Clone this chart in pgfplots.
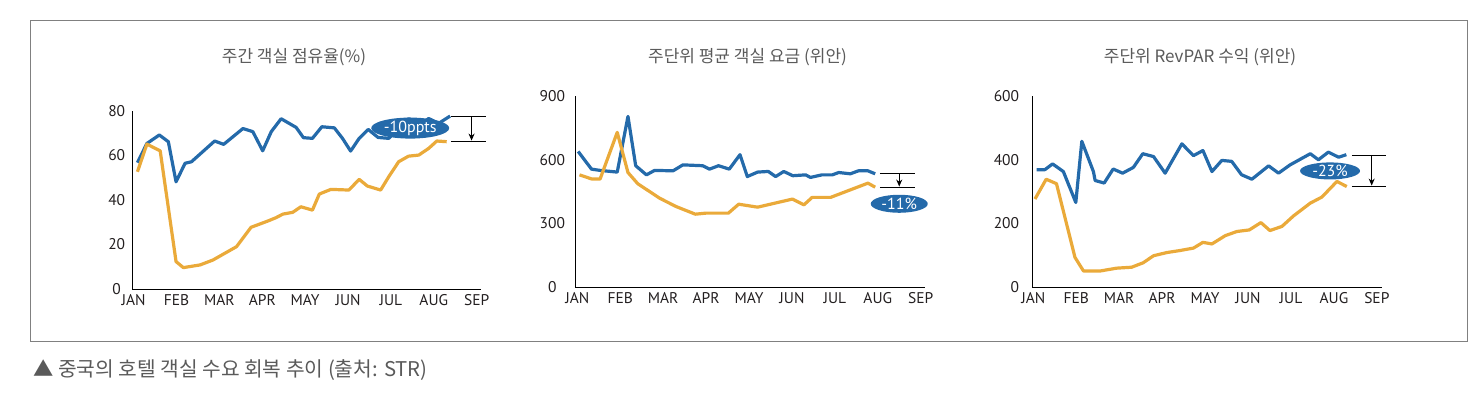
\documentclass[border=0pt]{standalone}
\usepackage{pgfplots}
\pgfplotsset{compat=1.18}
\usepackage{fontspec}
\setmainfont{PT Sans}
\newfontfamily\kr{Noto Sans CJK KR}
\usetikzlibrary{shapes.geometric,arrows.meta}
\definecolor{cblue}{RGB}{36,106,170}
\definecolor{corange}{RGB}{234,170,58}
\definecolor{tgray}{RGB}{90,90,90}
\definecolor{fgray}{RGB}{128,128,128}
\definecolor{tickc}{RGB}{35,31,32}

\pgfplotsset{
  panel/.style={
    scale only axis, anchor=south west,
    axis lines=left, axis line style={black, line width=0.9pt, -},
    major tick length=0pt,
    xmin=-0.03, xmax=8.1,
    xtick={0,1,2,3,4,5,6,7,8},
    xticklabels={JAN,FEB,MAR,APR,MAY,JUN,JUL,AUG,SEP},
    tick label style={font=\fontsize{15.5}{17}\selectfont, text=tickc},
    xticklabel style={anchor=north, inner sep=0pt, yshift=-5pt},
    /pgf/number format/assume math mode=true,
    clip=false,
    every axis plot/.append style={line width=3.2pt, line join=round, no markers},
  },
}
\tikzset{
  ann/.style={black, line width=0.9pt},
  annarrow/.style={black, line width=1pt, -{Stealth[length=7pt,width=6pt]}},
  bubble/.style={ellipse, fill=cblue, text=white, inner sep=0pt,
    font=\fontsize{16}{18}\selectfont},
}

\begin{document}
\begin{tikzpicture}
\useasboundingbox (0pt,0pt) rectangle (1478pt,-394pt);
\draw[fgray, line width=1.3pt] (30.3pt,-20.3pt) rectangle (1467.3pt,-341.3pt);

% Panel 1: occupancy
\begin{axis}[panel, at={(132.3pt,-289pt)}, width=348.7pt, height=178.3pt,
  ymin=0, ymax=80, ytick={0,20,40,60,80},
  yticklabel style={anchor=center, inner sep=0pt, xshift=-15.6pt}]
\addplot[cblue] coordinates {
(0.09,56.7)(0.31,65.3)(0.60,69.1)(0.81,66.1)(0.99,48.1)(1.20,56.4)(1.35,57.1)
(1.89,66.4)(2.10,64.9)(2.55,72.0)(2.78,70.6)(3.01,62.0)(3.21,70.6)(3.44,76.4)
(3.79,72.5)(3.96,67.9)(4.17,67.6)(4.39,72.8)(4.68,72.3)(4.87,67.6)(5.06,61.9)
(5.26,67.6)(5.47,71.6)(5.70,68.0)(5.95,67.6)(6.18,72.0)(6.42,76.5)(6.65,73.0)
(6.88,76.5)(7.11,74.3)(7.38,77.6)};
\addplot[corange] coordinates {
(0.09,52.6)(0.31,65.0)(0.62,62.0)(0.99,12.3)(1.16,9.6)(1.55,10.8)(1.85,13.0)
(2.40,19.0)(2.74,27.7)(3.13,30.5)(3.32,32.0)(3.48,33.6)(3.71,34.4)(3.90,36.9)
(4.17,35.4)(4.33,42.6)(4.60,44.7)(5.02,44.4)(5.26,49.2)(5.45,46.2)(5.76,44.4)
(5.95,50.4)(6.18,57.1)(6.41,59.6)(6.65,60.1)(6.88,63.1)(7.07,66.4)(7.30,66.1)};
\draw[ann] (axis cs:7.40,77.6) -- (axis cs:8.21,77.6);
\draw[ann] (axis cs:7.40,66.1) -- (axis cs:8.21,66.1);
\draw[annarrow] (axis cs:7.88,77.6) -- (axis cs:7.88,66.6);
\node[bubble, minimum width=78pt, minimum height=21pt] at (axis cs:6.45,72.2) {-10ppts};
\end{axis}

% Panel 2: ADR
\begin{axis}[panel, at={(575pt,-287.3pt)}, width=350pt, height=191.3pt,
  xmin=-0.054, xmax=8.1,
  ymin=0, ymax=900, ytick={0,300,600,900},
  yticklabel style={anchor=center, inner sep=0pt, xshift=-22.6pt}]
\addplot[cblue] coordinates {
(0.02,639)(0.33,556)(0.53,550)(0.93,542)(1.18,804)(1.36,572)(1.61,529)(1.80,550)
(2.23,548)(2.46,576)(2.92,572)(3.08,556)(3.29,572)(3.54,556)(3.79,624)(3.96,521)
(4.20,542)(4.45,545)(4.62,521)(4.81,545)(5.02,525)(5.32,529)(5.43,517)(5.70,529)
(5.94,529)(6.09,540)(6.36,534)(6.55,548)(6.77,548)(6.94,534)};
\addplot[corange] coordinates {
(0.05,529)(0.33,510)(0.53,509)(0.93,729)(1.18,540)(1.41,487)(1.92,419)(2.30,380)
(2.75,344)(3.00,349)(3.52,349)(3.76,391)(4.20,377)(5.01,415)(5.28,388)(5.47,423)
(5.90,423)(6.77,490)(6.94,471)};
\draw[ann] (axis cs:7.05,537) -- (axis cs:7.87,537);
\draw[ann] (axis cs:7.05,471) -- (axis cs:7.87,471);
\draw[annarrow] (axis cs:7.50,537) -- (axis cs:7.50,474);
\node[bubble, minimum width=57pt, minimum height=18pt] at (axis cs:7.50,393) {-11\%};
\end{axis}

% Panel 3: RevPAR
\begin{axis}[panel, at={(1032.3pt,-287.3pt)}, width=349.7pt, height=191.3pt,
  xmin=-0.023, xmax=8.12,
  ymin=0, ymax=600, ytick={0,200,400,600},
  yticklabel style={anchor=east, inner sep=0pt, xshift=-13pt}]
\addplot[cblue] coordinates {
(0.08,369)(0.27,369)(0.45,387)(0.70,363)(0.99,266)(1.13,458)(1.40,363)(1.44,335)
(1.65,327)(1.86,371)(2.08,358)(2.33,376)(2.55,419)(2.80,410)(3.07,358)(3.46,450)
(3.73,413)(3.95,429)(4.16,363)(4.39,398)(4.62,395)(4.85,353)(5.09,339)(5.48,381)
(5.71,358)(5.98,384)(6.45,419)(6.64,400)(6.87,424)(7.11,408)(7.29,416)};
\addplot[corange] coordinates {
(0.04,277)(0.30,339)(0.54,325)(0.97,94)(1.17,51)(1.55,51)(1.94,60)(2.29,63)
(2.56,77)(2.80,99)(3.11,109)(3.40,115)(3.73,123)(3.95,141)(4.16,136)(4.47,162)
(4.74,175)(5.03,180)(5.30,203)(5.51,178)(5.79,191)(6.06,224)(6.45,264)(6.72,283)
(7.07,332)(7.30,316)};
\draw[ann] (axis cs:7.42,415) -- (axis cs:8.22,415);
\draw[ann] (axis cs:7.42,316) -- (axis cs:8.22,316);
\draw[annarrow] (axis cs:7.88,415) -- (axis cs:7.88,319);
\node[bubble, minimum width=60pt, minimum height=17pt] at (axis cs:6.91,365) {-23\%};
\end{axis}

% Titles
\node[text=tgray, font=\kr\fontsize{17}{20}\selectfont] at (294pt,-57pt) {주간 객실 점유율(\%)};
\node[text=tgray, font=\kr\fontsize{17}{20}\selectfont] at (747.5pt,-57pt) {주단위 평균 객실 요금 (위안)};
\node[text=tgray, font=\kr\fontsize{17}{20}\selectfont] at (1200pt,-57pt) {주단위 RevPAR 수익 (위안)};

% Caption
\node[anchor=west, inner sep=0pt, text=tgray, font=\kr\fontsize{20.3}{23}\selectfont] at (33pt,-370pt) {▲ 중국의 호텔 객실 수요 회복 추이 (출처: STR)};
\end{tikzpicture}
\end{document}
